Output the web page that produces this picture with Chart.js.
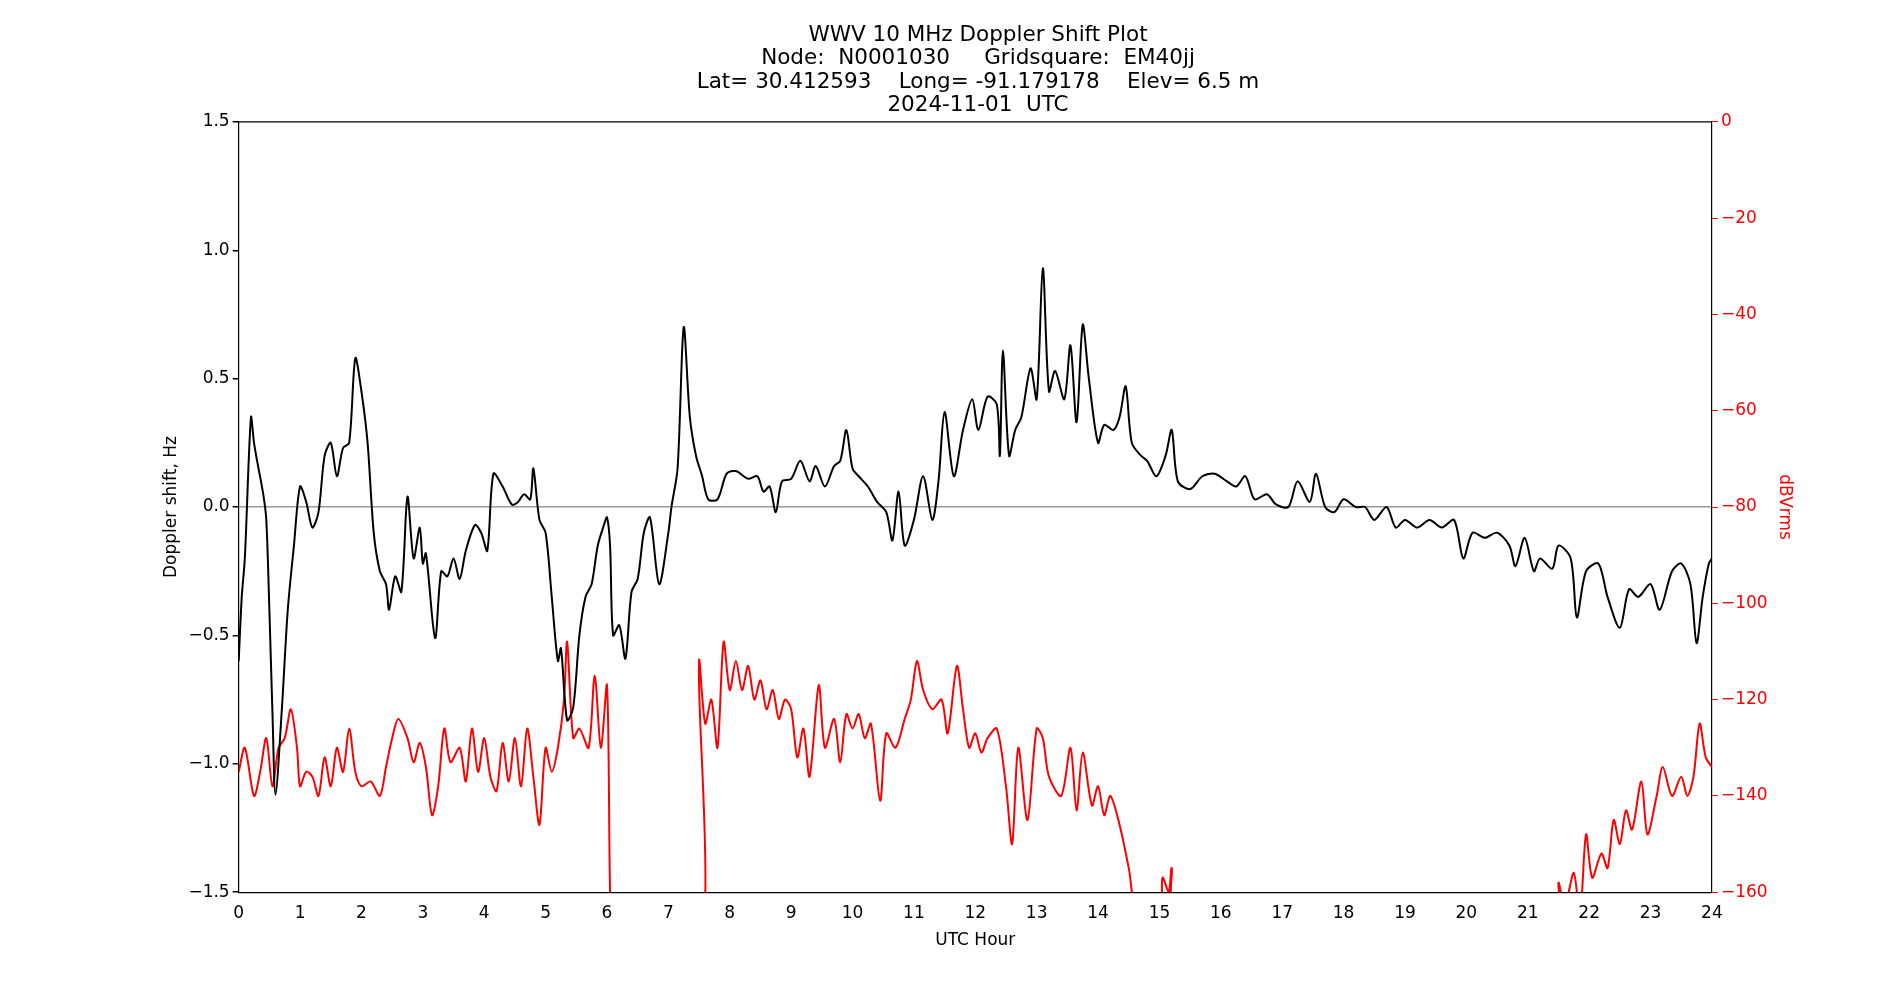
<!DOCTYPE html>
<html>
<head>
<meta charset="utf-8">
<script src="https://cdn.jsdelivr.net/npm/chart.js@4"></script>
<style>
  body { margin: 0; background: #fff; }
</style>
</head>
<body>
<canvas id="chart" width="1900" height="1000"></canvas>
<script>
// Doppler shift (black), hours / Hz
const dopHours = [0,0.05,0.1,0.2,0.25,0.3,0.4,0.45,0.5,0.55,0.6,0.7,0.8,0.9,1.0,1.1,1.2,1.3,1.4,1.5,1.6,1.7,1.8,1.9,2.0,2.1,2.2,2.3,2.4,2.45,2.55,2.65,2.75,2.85,2.95,3.0,3.05,3.2,3.3,3.4,3.5,3.6,3.7,3.85,3.95,4.05,4.15,4.3,4.45,4.55,4.65,4.75,4.8,4.9,5.0,5.1,5.2,5.25,5.35,5.45,5.55,5.65,5.75,5.85,5.95,6.0,6.05,6.1,6.2,6.3,6.4,6.5,6.6,6.7,6.85,7.0,7.05,7.15,7.25,7.35,7.45,7.55,7.65,7.8,7.95,8.1,8.3,8.45,8.55,8.65,8.75,8.85,9.0,9.15,9.3,9.4,9.55,9.7,9.8,9.9,10.0,10.1,10.25,10.4,10.55,10.65,10.75,10.85,11.0,11.15,11.3,11.4,11.5,11.65,11.8,11.95,12.05,12.2,12.35,12.4,12.45,12.55,12.65,12.75,12.9,13.0,13.1,13.2,13.3,13.45,13.55,13.65,13.75,13.85,14.0,14.1,14.25,14.35,14.45,14.55,14.7,14.8,14.95,15.1,15.2,15.3,15.5,15.7,15.9,16.1,16.25,16.4,16.55,16.75,16.9,17.1,17.25,17.45,17.55,17.7,17.85,18.0,18.2,18.35,18.5,18.7,18.85,19.0,19.2,19.4,19.6,19.8,19.95,20.1,20.3,20.5,20.7,20.8,20.95,21.1,21.2,21.4,21.5,21.7,21.8,21.95,22.15,22.3,22.5,22.65,22.8,23.0,23.15,23.35,23.5,23.65,23.75,23.85,23.95,24];
const dopValues = [-0.6,-0.35,-0.2,0.35,0.25,0.18,0.05,-0.05,-0.4,-0.8,-1.12,-0.8,-0.4,-0.15,0.08,0.02,-0.08,-0.02,0.2,0.25,0.12,0.23,0.25,0.58,0.45,0.25,-0.1,-0.25,-0.3,-0.4,-0.27,-0.33,0.04,-0.2,-0.08,-0.22,-0.18,-0.51,-0.25,-0.27,-0.2,-0.28,-0.17,-0.07,-0.1,-0.17,0.13,0.08,0.01,0.02,0.05,0.03,0.15,-0.05,-0.1,-0.35,-0.6,-0.55,-0.83,-0.78,-0.5,-0.35,-0.3,-0.15,-0.07,-0.04,-0.15,-0.5,-0.46,-0.59,-0.33,-0.28,-0.1,-0.04,-0.3,-0.1,0.0,0.15,0.7,0.35,0.2,0.12,0.03,0.03,0.13,0.14,0.11,0.12,0.06,0.08,-0.02,0.1,0.11,0.18,0.1,0.16,0.08,0.16,0.18,0.3,0.15,0.12,0.08,0.02,-0.02,-0.13,0.06,-0.15,-0.05,0.12,-0.05,0.1,0.37,0.12,0.3,0.42,0.3,0.43,0.4,0.2,0.61,0.2,0.3,0.35,0.54,0.42,0.93,0.45,0.53,0.42,0.63,0.33,0.71,0.5,0.25,0.32,0.3,0.35,0.47,0.25,0.2,0.18,0.12,0.2,0.3,0.1,0.07,0.12,0.13,0.1,0.08,0.12,0.03,0.05,0.01,0.0,0.1,0.02,0.13,0.0,-0.02,0.03,0.0,0.0,-0.05,0.0,-0.08,-0.05,-0.08,-0.05,-0.08,-0.05,-0.2,-0.1,-0.12,-0.1,-0.15,-0.23,-0.12,-0.25,-0.2,-0.24,-0.15,-0.2,-0.43,-0.25,-0.22,-0.35,-0.47,-0.32,-0.35,-0.3,-0.4,-0.25,-0.22,-0.3,-0.53,-0.35,-0.22,-0.2];

// Signal level (red), hours / dBVrms
const rmsHours = [0,0.1,0.25,0.35,0.45,0.55,0.65,0.75,0.85,0.95,1.0,1.1,1.2,1.3,1.4,1.5,1.6,1.7,1.8,1.9,2.0,2.15,2.3,2.4,2.5,2.6,2.75,2.85,2.95,3.05,3.15,3.25,3.35,3.45,3.6,3.7,3.8,3.9,4.0,4.1,4.2,4.3,4.4,4.5,4.6,4.7,4.8,4.9,5.0,5.1,5.2,5.3,5.35,5.45,5.55,5.7,5.8,5.9,6.0,6.05,6.1,7.45,7.5,7.6,7.7,7.8,7.9,8.0,8.1,8.2,8.3,8.4,8.5,8.6,8.7,8.8,8.9,9.0,9.1,9.2,9.3,9.45,9.55,9.7,9.8,9.9,10.0,10.1,10.2,10.3,10.45,10.55,10.7,10.85,10.95,11.05,11.15,11.3,11.45,11.55,11.7,11.8,11.9,12.0,12.1,12.2,12.35,12.5,12.6,12.7,12.85,13.0,13.1,13.2,13.4,13.55,13.65,13.75,13.9,14.0,14.1,14.2,14.35,14.5,14.65,15.0,15.05,15.15,15.2,15.3,21.45,21.5,21.6,21.75,21.85,21.95,22.05,22.2,22.3,22.4,22.5,22.6,22.7,22.85,22.95,23.1,23.2,23.35,23.5,23.6,23.7,23.8,23.9,24];
const rmsValues = [-135,-130,-140,-135,-128,-138,-130,-128,-122,-130,-138,-135,-136,-140,-132,-138,-130,-135,-126,-135,-138,-137,-140,-134,-128,-124,-128,-133,-129,-134,-144,-138,-126,-133,-130,-137,-126,-135,-128,-136,-139,-129,-137,-128,-138,-126,-136,-146,-130,-135,-130,-120,-108,-128,-126,-130,-115,-130,-117,-160,-180,-180,-112,-125,-120,-130,-108,-118,-112,-118,-113,-120,-116,-122,-118,-124,-120,-122,-132,-126,-136,-117,-130,-124,-133,-123,-126,-123,-128,-125,-141,-127,-130,-124,-120,-112,-118,-122,-120,-127,-113,-122,-130,-127,-131,-128,-126,-138,-150,-130,-145,-126,-128,-136,-140,-130,-143,-131,-142,-138,-144,-140,-146,-155,-165,-165,-157,-160,-155,-165,-165,-158,-163,-156,-165,-148,-157,-152,-155,-145,-150,-143,-147,-137,-148,-140,-134,-140,-136,-140,-136,-125,-132,-134];

const titleLines = ['WWV 10 MHz Doppler Shift Plot', 'Node:  N0001030     Gridsquare:  EM40jj', 'Lat= 30.412593    Long= -91.179178    Elev= 6.5 m', '2024-11-01  UTC'];

const FONT = 'DejaVu Sans';
const minus = v => String(v).replace('-', '\u2212');

new Chart(document.getElementById('chart'), {
  type: 'line',
  data: {
    datasets: [{
      data: dopHours.map((h, i) => ({ x: h, y: dopValues[i] })),
      borderColor: '#000',
      borderWidth: 2,
      pointRadius: 0,
      tension: 0.3,
      yAxisID: 'y'
    }, {
      data: rmsHours.map((h, i) => ({ x: h, y: rmsValues[i] })),
      borderColor: '#ff0000',
      borderWidth: 2,
      pointRadius: 0,
      tension: 0.3,
      yAxisID: 'y2'
    }]
  },
  options: {
    responsive: false,
    animation: false,
    layout: { padding: { left: 157, right: 101, top: 0, bottom: 45 } },
    plugins: {
      legend: { display: false },
      tooltip: { enabled: false },
      title: {
        display: true,
        text: titleLines,
        color: '#000',
        font: { family: FONT, size: 21.5, weight: 'normal', lineHeight: 1.08 },
        padding: { top: 24, bottom: 5 }
      }
    },
    scales: {
      x: {
        type: 'linear', min: 0, max: 24,
        border: { color: '#000', width: 1.2 },
        grid: { display: false, drawTicks: true },
        ticks: { stepSize: 1, color: '#000', font: { family: FONT, size: 17 }, maxRotation: 0 },
        title: { display: true, text: 'UTC Hour', color: '#000', font: { family: FONT, size: 17 }, padding: 4 }
      },
      y: {
        position: 'left', min: -1.5, max: 1.5,
        border: { color: '#000', width: 1.2 },
        grid: {
          drawOnChartArea: true,
          color: c => c.tick && c.tick.value === 0 ? '#999' : 'rgba(0,0,0,0)',
          lineWidth: 1.5,
          tickColor: '#000', tickLength: 6
        },
        ticks: { stepSize: 0.5, color: '#000', font: { family: FONT, size: 17 }, callback: v => minus(v.toFixed(1)) },
        title: { display: true, text: 'Doppler shift, Hz', color: '#000', font: { family: FONT, size: 17 } }
      },
      y2: {
        position: 'right', min: -160, max: 0,
        border: { color: '#000', width: 1.2 },
        grid: { drawOnChartArea: false, tickColor: '#ff0000', tickLength: 6 },
        ticks: { stepSize: 20, color: '#ff0000', font: { family: FONT, size: 17 }, callback: v => minus(v) },
        title: { display: true, text: 'dBVrms', color: '#ff0000', font: { family: FONT, size: 17 } }
      }
    }
  },
  plugins: [{
    id: 'topBorder',
    afterDraw(chart) {
      const a = chart.chartArea, ctx = chart.ctx;
      ctx.save();
      ctx.strokeStyle = '#000';
      ctx.lineWidth = 1.2;
      ctx.beginPath();
      ctx.moveTo(a.left, a.top);
      ctx.lineTo(a.right, a.top);
      ctx.stroke();
      ctx.restore();
    }
  }]
});
</script>
</body>
</html>
